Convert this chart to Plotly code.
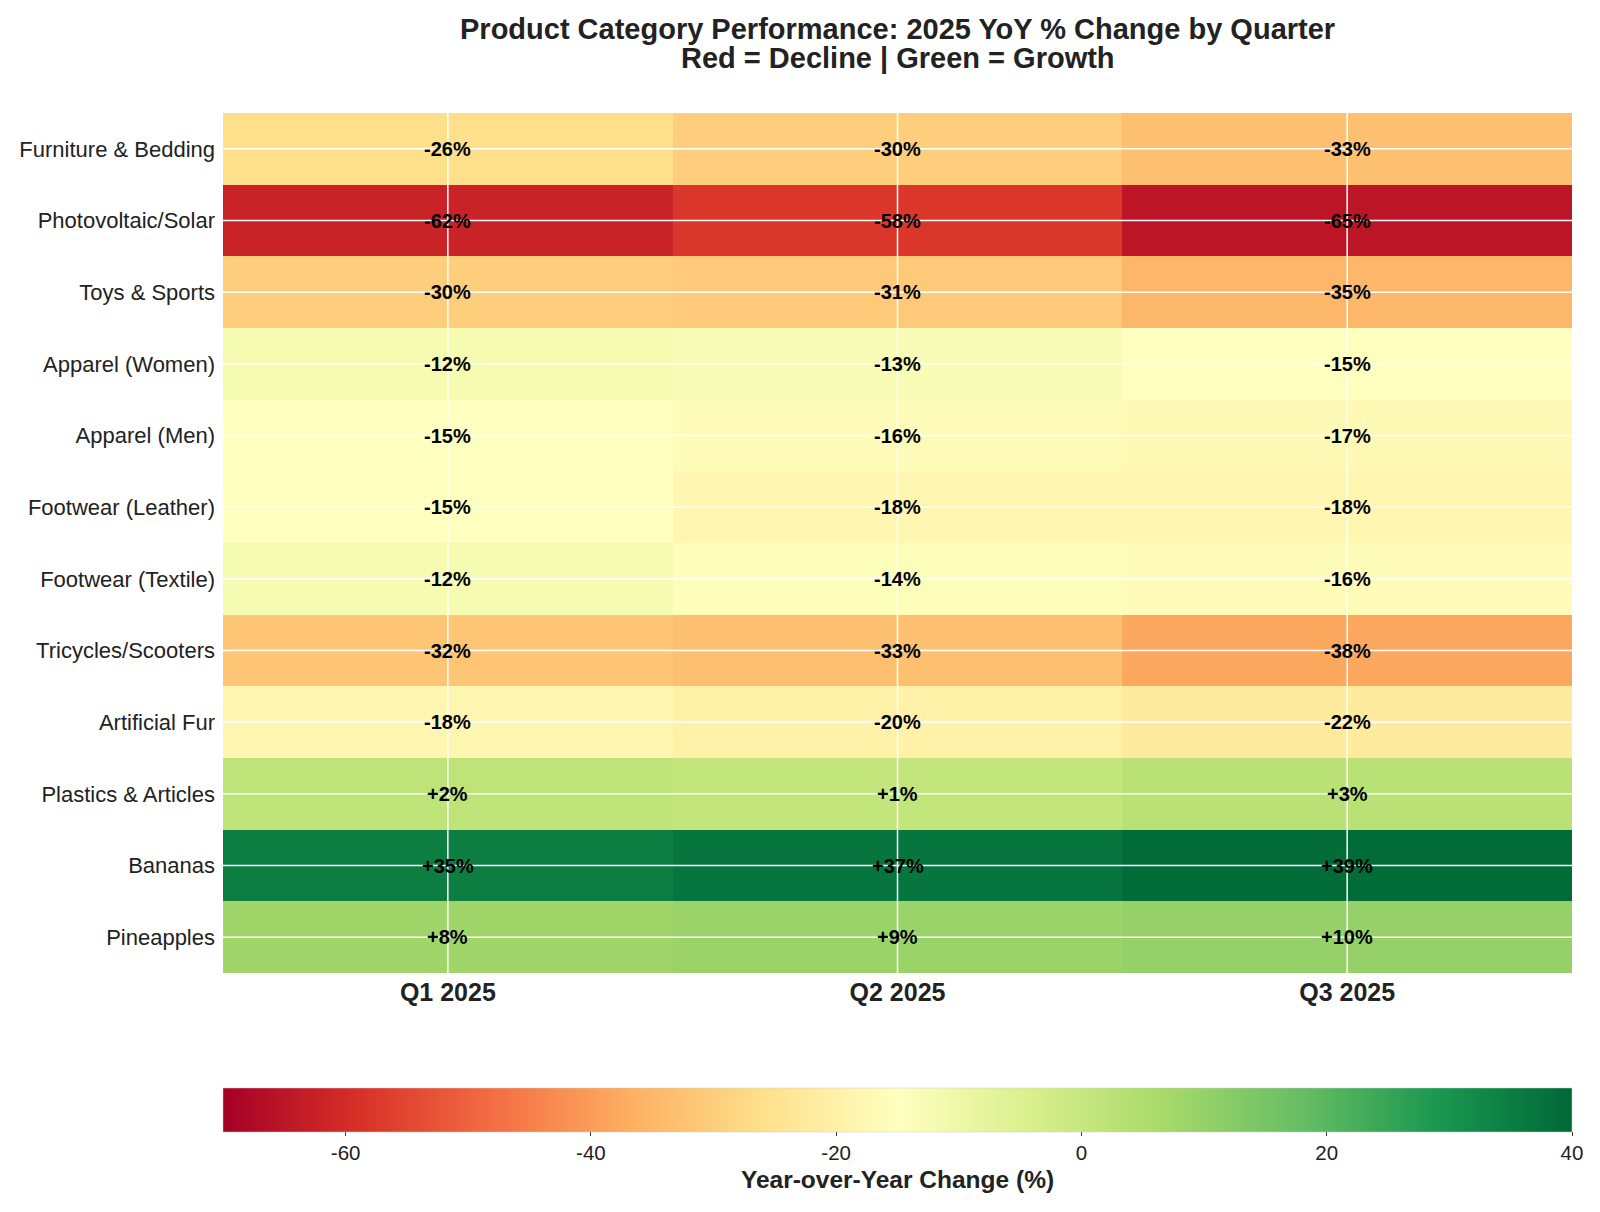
import plotly.graph_objects as go

categories = ["Furniture & Bedding", "Photovoltaic/Solar", "Toys & Sports", "Apparel (Women)",
              "Apparel (Men)", "Footwear (Leather)", "Footwear (Textile)", "Tricycles/Scooters",
              "Artificial Fur", "Plastics & Articles", "Bananas", "Pineapples"]
quarters = ["Q1 2025", "Q2 2025", "Q3 2025"]
q1 = [-26, -62, -30, -12, -15, -15, -12, -32, -18, 2, 35, 8]
q2 = [-30, -58, -31, -13, -16, -18, -14, -33, -20, 1, 37, 9]
q3 = [-33, -65, -35, -15, -17, -18, -16, -38, -22, 3, 39, 10]
cbar_ticks = [-60, -40, -20, 0, 20, 40]
title_lines = ["Product Category Performance: 2025 YoY % Change by Quarter",
               "Red = Decline | Green = Growth"]

z = [[a, b, c] for a, b, c in zip(q1, q2, q3)]

rdylgn = ["#a50026", "#d73027", "#f46d43", "#fdae61", "#fee08b", "#ffffbf",
          "#d9ef8b", "#a6d96a", "#66bd63", "#1a9850", "#006837"]
colorscale = [[i / (len(rdylgn) - 1), c] for i, c in enumerate(rdylgn)]

FONT = "Liberation Sans, Arial, sans-serif"
W, H = 1584, 1196
L, R, T, B = 215, 20, 105, 231
PH = H - T - B

fig = go.Figure(go.Heatmap(
    z=z, x=quarters, y=categories, zmin=-70, zmax=40, colorscale=colorscale,
    colorbar=dict(
        orientation="h", x=0.5, xanchor="center", y=-115 / PH, yanchor="top",
        lenmode="fraction", len=1.0, thickness=44, thicknessmode="pixels",
        outlinewidth=0.5, outlinecolor="#cccccc",
        tickvals=cbar_ticks, ticktext=[str(t) for t in cbar_ticks],
        ticks="outside", ticklen=4,
        tickcolor="#333", tickfont=dict(size=20.5, color="#222", family=FONT),
        title=dict(text="<b>Year-over-Year Change (%)</b>", side="bottom",
                   font=dict(size=24.5, color="#222", family=FONT)),
        xpad=0, ypad=0,
    ),
    hoverinfo="skip",
))

shapes = []
for q in quarters:
    shapes.append(dict(type="line", xref="x", yref="paper", x0=q, x1=q, y0=0, y1=1,
                       line=dict(color="white", width=1.5), layer="above"))
for c in categories:
    shapes.append(dict(type="line", xref="paper", yref="y", x0=0, x1=1, y0=c, y1=c,
                       line=dict(color="white", width=1.5), layer="above"))

annotations = []
for cat, row in zip(categories, z):
    for q, v in zip(quarters, row):
        annotations.append(dict(x=q, y=cat, xref="x", yref="y", showarrow=False,
                                text=f"<b>{v:+d}%</b>",
                                font=dict(size=20, color="black", family=FONT)))
for line, cy in zip(title_lines, [20.6, 50.2]):
    annotations.append(dict(x=0.5, y=1 + (T - cy) / PH, xref="paper", yref="paper",
                            xanchor="center", yanchor="middle", showarrow=False,
                            text=f"<b>{line}</b>",
                            font=dict(size=29, color="#222", family=FONT)))

fig.update_layout(
    width=W, height=H,
    margin=dict(l=L, r=R, t=T, b=B, autoexpand=False),
    paper_bgcolor="white", plot_bgcolor="white",
    font=dict(family=FONT, color="#222"),
    xaxis=dict(tickfont=dict(size=25, color="#222", family=FONT), showgrid=False,
               ticks="", ticklabelstandoff=2, zeroline=False, showline=False,
               tickprefix="<b>", ticksuffix="</b>"),
    yaxis=dict(autorange="reversed", tickfont=dict(size=22, color="#222", family=FONT),
               showgrid=False, ticks="", zeroline=False, showline=False, ticklabelstandoff=7),
    shapes=shapes, annotations=annotations,
)

fig.write_html("out.html")
